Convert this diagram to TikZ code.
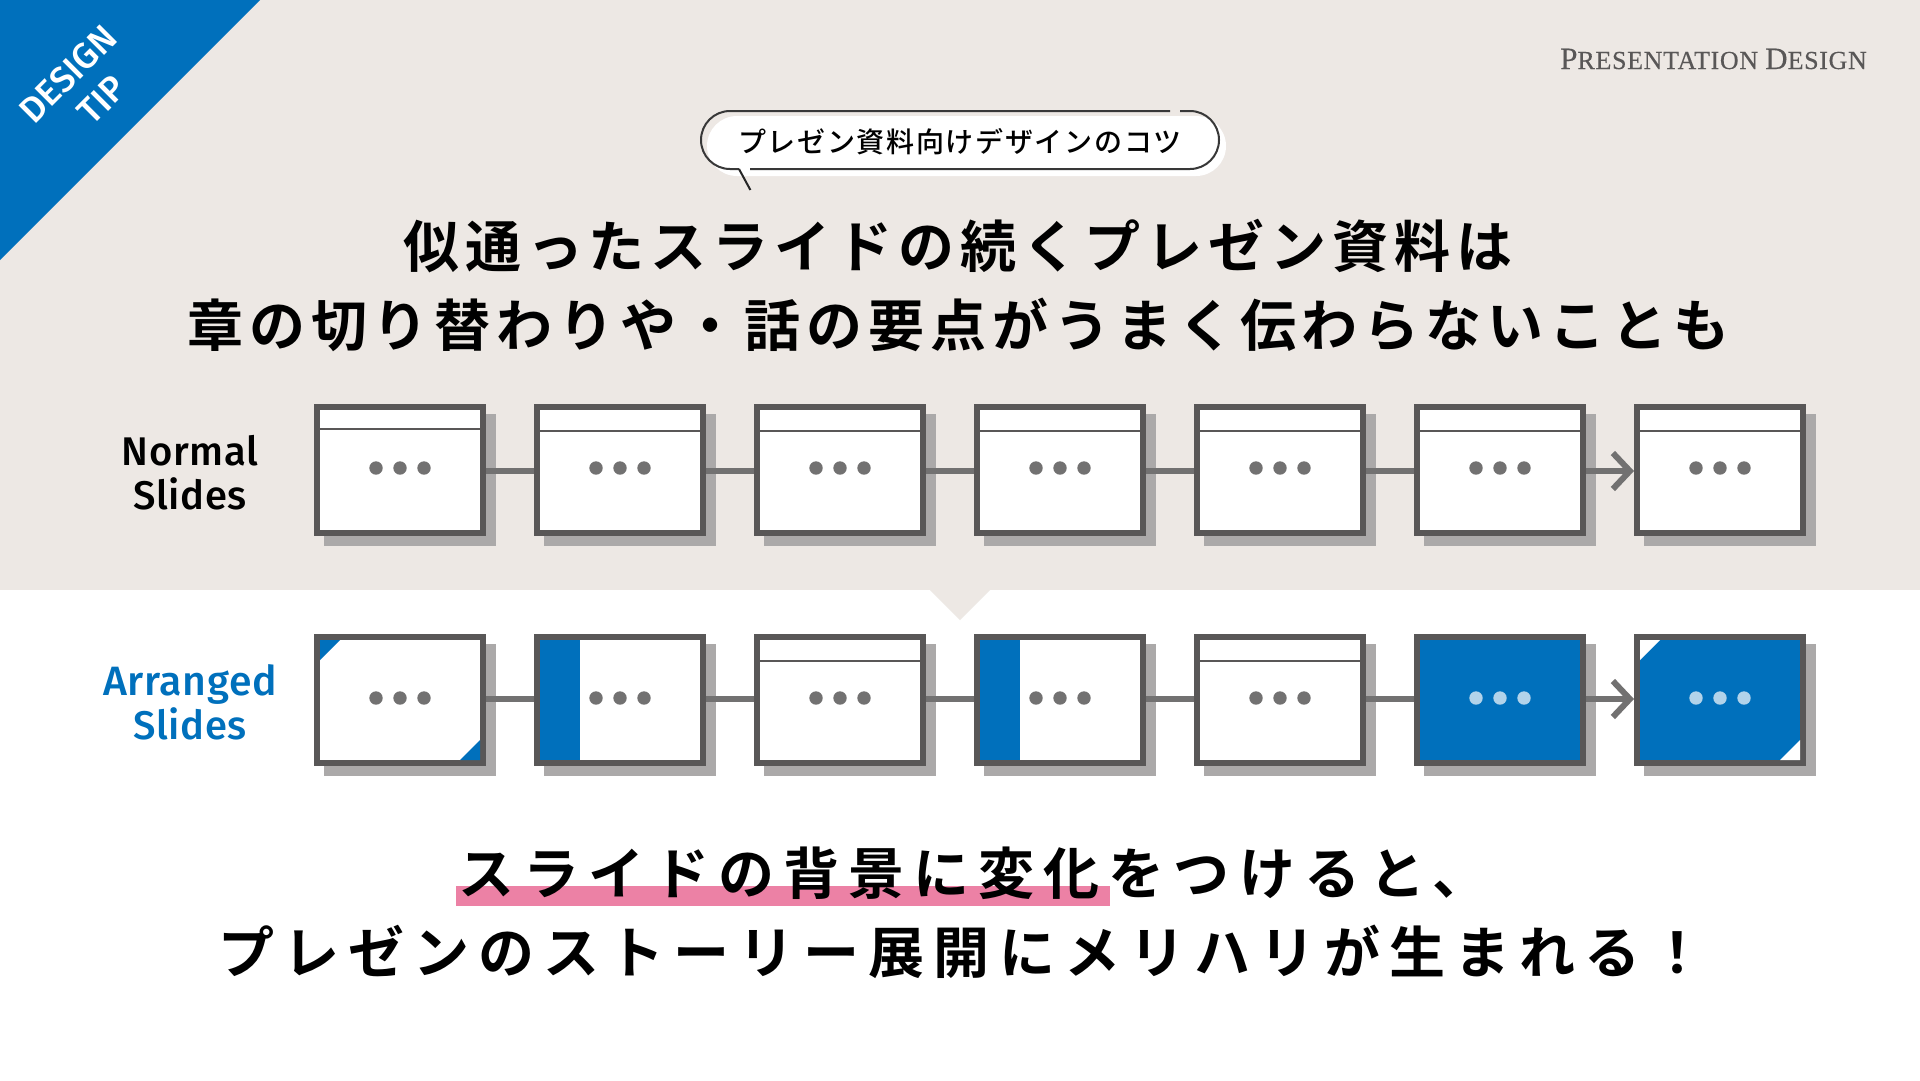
\documentclass[tikz,border=0pt]{standalone}
\usepackage{fontspec}
\usetikzlibrary{arrows.meta,calc}
\setmainfont{Liberation Serif}
\newfontfamily\jptitle[LetterSpace=10.6]{Noto Sans CJK JP Bold}
\newfontfamily\jpbottom[LetterSpace=16.2]{Noto Sans CJK JP Bold}
\newfontfamily\jpbubble[LetterSpace=6]{Noto Sans CJK JP Medium}
\newfontfamily\labelfont[LetterSpace=1.5]{Fira Sans Medium}
\newfontfamily\tipfont{Fira Sans Medium}
\newfontfamily\brandfont[LetterSpace=2.5,FakeBold=0.3]{Liberation Serif}
\definecolor{beige}{HTML}{EDE8E4}
\definecolor{brandblue}{HTML}{0070BC}
\definecolor{framegray}{HTML}{595757}
\definecolor{dotgray}{HTML}{727171}
\definecolor{shadowgray}{HTML}{ABA9A9}
\definecolor{pinkmark}{HTML}{EC81A5}
\definecolor{paledot}{HTML}{B2D3EA}
\tikzset{
  x=1pt,y=-1pt,
  slideframe/.style={draw=framegray,line width=6pt,fill=white,minimum width=166pt,minimum height=126pt,inner sep=0pt},
  conn/.style={draw=dotgray,line width=6pt},
  connarrow/.style={conn,-{Straight Barb[length=17pt,width=36pt,line width=6pt]}},
  headrule/.style={draw=framegray,line width=2pt},
  titletext/.style={inner sep=0pt,anchor=west,text=black},
  rowlabel/.style={inner sep=0pt,anchor=base},
}
% name, centre x, centre y
\newcommand{\slidebox}[3]{%
  \fill[shadowgray] (#2-76,#3-56) rectangle (#2+96,#3+76);
  \node[slideframe] (#1) at (#2,#3) {};}
% centre x, y, colour
\newcommand{\threedots}[3]{%
  \fill[#3] (#1-24,#2) circle (6.7pt) (#1,#2) circle (6.7pt) (#1+24,#2) circle (6.7pt);}
% two opposite corners, inner box centre x, y
\newcommand{\corners}[3]{%
  \fill[#3] (#1-80,#2-60) -- (#1-60,#2-60) -- (#1-80,#2-40) -- cycle;
  \fill[#3] (#1+80,#2+60) -- (#1+60,#2+60) -- (#1+80,#2+40) -- cycle;}
\begin{document}
\begin{tikzpicture}
\useasboundingbox (0,0) rectangle (1920,1080);
\fill[white] (0,0) rectangle (1920,1080);
\fill[beige] (0,0) rectangle (1920,590);
\fill[beige] (930,590) -- (990,590) -- (960,620) -- cycle;
\fill[brandblue] (0,0) -- (260,0) -- (0,260) -- cycle;

\node[inner sep=0pt,rotate=45,text=white] (tipa) at (68,74) {\tipfont\fontsize{36}{40}\selectfont DESIGN};
\node[inner sep=0pt,rotate=45,text=white] (tipb) at (102,100) {\tipfont\fontsize{36}{40}\selectfont TIP};

\node[inner sep=0pt,anchor=base east,text=framegray] (brand) at (1867,69)
  {\brandfont\fontsize{31}{34}\selectfont P\fontsize{26}{34}\selectfont RESENTATION \fontsize{31}{34}\selectfont D\fontsize{26}{34}\selectfont ESIGN};

% bubble
\fill[white,rounded corners=30pt] (707,116) rectangle (1226,176);
\draw[draw=black!78,line width=2pt,rounded corners=29pt] (1180,111) -- (1219,111) -- (1219,169) -- (750,169);
\draw[draw=black!78,line width=2pt,rounded corners=29pt] (739,169) -- (701,169) -- (701,111) -- (1170,111);
\coordinate (taila) at (739,169);
\coordinate (tailb) at (750.4,190);
\draw[draw=black!85,line width=2pt] (taila) -- (tailb);
\node[titletext] (bubbletext) at (738,142) {\jpbubble\fontsize{28}{30}\selectfont プレゼン資料向けデザインのコツ};

% title
\node[titletext] (title1) at (403,246) {\jptitle\fontsize{56}{60}\selectfont 似通ったスライドの続くプレゼン資料は};
\node[titletext] (title2) at (187,325) {\jptitle\fontsize{56}{60}\selectfont 章の切り替わりや・話の要点がうまく伝わらないことも};

% labels
\node[rowlabel] (n1) at (190,465) {\labelfont\fontsize{40}{44}\selectfont Normal};
\node[rowlabel] (n2) at (190,509) {\labelfont\fontsize{40}{44}\selectfont Slides};
\node[rowlabel,text=brandblue] (a1) at (190,695) {\labelfont\fontsize{41}{44}\selectfont Arranged};
\node[rowlabel,text=brandblue] (a2) at (190,739) {\labelfont\fontsize{40}{44}\selectfont Slides};

% top row
\slidebox{ta}{400}{470}
\slidebox{tb}{620}{470}
\slidebox{tc}{840}{470}
\slidebox{td}{1060}{470}
\slidebox{te}{1280}{470}
\slidebox{tf}{1500}{470}
\slidebox{tg}{1720}{470}
\draw[headrule] (320,429) -- (480,429);
\foreach \cx in {620,840,1060,1280,1500,1720}{\draw[headrule] (\cx-80,431) -- (\cx+80,431);}
\foreach \cx in {400,620,840,1060,1280,1500,1720}{\threedots{\cx}{468}{dotgray}}
\draw[conn] ([yshift=-1pt]ta.east) -- ([yshift=-1pt]tb.west);
\draw[conn] ([yshift=-1pt]tb.east) -- ([yshift=-1pt]tc.west);
\draw[conn] ([yshift=-1pt]tc.east) -- ([yshift=-1pt]td.west);
\draw[conn] ([yshift=-1pt]td.east) -- ([yshift=-1pt]te.west);
\draw[conn] ([yshift=-1pt]te.east) -- ([yshift=-1pt]tf.west);
\draw[connarrow] ([yshift=-1pt]tf.east) -- ([yshift=-1pt]tg.west);

% bottom row
\slidebox{ba}{400}{700}
\slidebox{bb}{620}{700}
\slidebox{bc}{840}{700}
\slidebox{bd}{1060}{700}
\slidebox{be}{1280}{700}
\slidebox{bf}{1500}{700}
\slidebox{bg}{1720}{700}
\corners{400}{700}{brandblue}
\fill[brandblue] (540,640) rectangle (580,760);
\fill[brandblue] (980,640) rectangle (1020,760);
\draw[headrule] (760,661) -- (920,661);
\draw[headrule] (1200,661) -- (1360,661);
\fill[brandblue] (1420,640) rectangle (1580,760);
\fill[brandblue] (1640,640) rectangle (1800,760);
\corners{1720}{700}{white}
\foreach \cx in {400,620,840,1060,1280}{\threedots{\cx}{698}{dotgray}}
\foreach \cx in {1500,1720}{\threedots{\cx}{698}{paledot}}
\draw[conn] ([yshift=1pt]ba.east) -- ([yshift=1pt]bb.west);
\draw[conn] ([yshift=1pt]bb.east) -- ([yshift=1pt]bc.west);
\draw[conn] ([yshift=1pt]bc.east) -- ([yshift=1pt]bd.west);
\draw[conn] ([yshift=1pt]bd.east) -- ([yshift=1pt]be.west);
\draw[conn] ([yshift=1pt]be.east) -- ([yshift=1pt]bf.west);
\draw[connarrow] ([yshift=1pt]bf.east) -- ([yshift=1pt]bg.west);

% bottom text
\fill[pinkmark] (455.6,886) rectangle (1110,906);
\node[titletext] (bottom1) at (458,873) {\jpbottom\fontsize{56}{60}\selectfont スライドの背景に変化をつけると、};
\node[titletext] (bottom2) at (218,952) {\jpbottom\fontsize{56}{60}\selectfont プレゼンのストーリー展開にメリハリが生まれる！};
\end{tikzpicture}
\end{document}
